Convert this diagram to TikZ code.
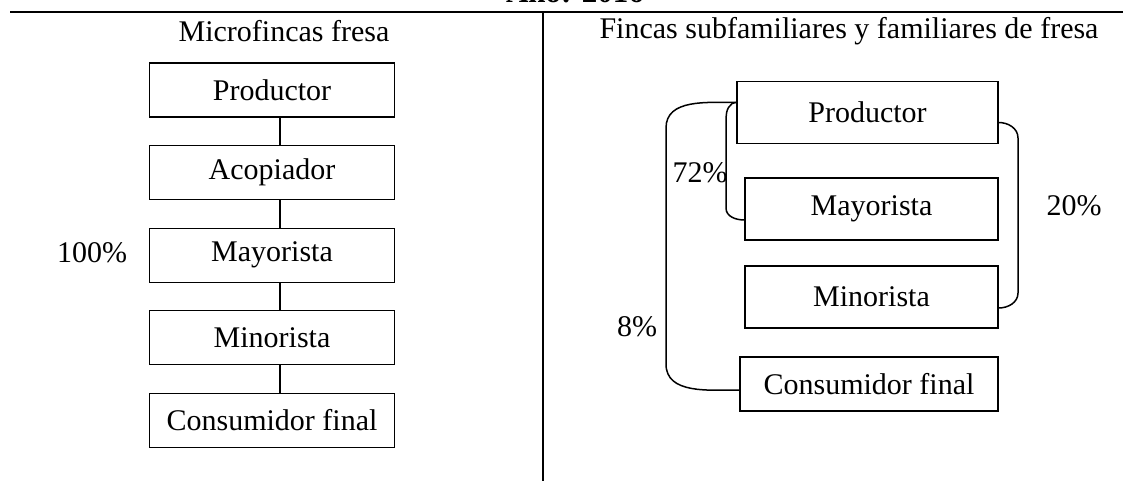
\documentclass[tikz,border=0pt]{standalone}
\usepackage{fontspec}
\setmainfont{Liberation Serif}
\usetikzlibrary{positioning}

\tikzset{
  caja/.style={draw, line width=1.1pt, minimum width=245pt, minimum height=54pt, inner sep=0pt},
  cajaf/.style={draw, line width=1.1pt, minimum width=253pt, minimum height=62pt, inner sep=0pt},
  enlace/.style={line width=1.5pt},
  regla/.style={line width=1.2pt},
}

\begin{document}
\begin{tikzpicture}[x=1pt,y=-1pt,font=\fontsize{30}{34}\selectfont,node distance=27.5pt]

 \useasboundingbox (0,0) rectangle (1130,481);

 % titulo y lineas de la tabla
 \node[anchor=base,font=\fontsize{31}{34}\selectfont\bfseries] (anio) at (575,3) {Año: 2016};
 \draw[regla] (10,12) -- (1123,12);
 \draw[regla] (543,12) -- (543,481);
 \node (tmicro) at (284,31) {Microfincas fresa};
 \node (tfinca) at (849,31) {Fincas subfamiliares y familiares de fresa};

 % microfincas
 \node[caja] (lprod) at (272,90) {Productor};
 \node[caja,below=of lprod] (lacop) {Acopiador};
 \node[caja,below=of lacop] (lmay) {Mayorista};
 \node[caja,below=of lmay] (lmin) {Minorista};
 \node[caja,below=of lmin] (lcons) {Consumidor final};
 \draw[enlace] ([xshift=8pt]lprod.south) -- ([xshift=8pt]lacop.north);
 \draw[enlace] ([xshift=8pt]lacop.south) -- ([xshift=8pt]lmay.north);
 \draw[enlace] ([xshift=8pt]lmay.south) -- ([xshift=8pt]lmin.north);
 \draw[enlace] ([xshift=8pt]lmin.south) -- ([xshift=8pt]lcons.north);
 \node (pcien) at (92,253) {100\%};

 % fincas subfamiliares y familiares
 \node[cajaf,minimum width=261pt] (rprod) at (867.5,112.5) {Productor};
 \node[cajaf] (rmay) at (871.5,209) {Mayorista};
 \node[cajaf] (rmin) at (871.5,297) {Minorista};
 \node[cajaf,minimum width=258pt,minimum height=54pt] (rcons) at (869,384) {Consumidor final};

 \draw[enlace] ([yshift=10pt]rprod.west) to[out=180,in=90] (726,118) -- (726,208) to[out=-90,in=180] ([yshift=-11pt]rmay.west); % 72
 \draw[enlace] ([yshift=10pt]rprod.west) to[out=180,in=90] (666,128) -- (666,364) to[out=-90,in=180] ([yshift=-6pt]rcons.west); % 8
 \draw[enlace] ([yshift=-10pt]rprod.east) to[out=0,in=90] (1018,138) -- (1018,293) to[out=-90,in=0] ([yshift=-11pt]rmin.east); % 20

 \node (psetenta) at (700,173) {72\%};
 \node (pocho) at (637,327) {8\%};
 \node (pveinte) at (1074,206) {20\%};

\end{tikzpicture}
\end{document}
